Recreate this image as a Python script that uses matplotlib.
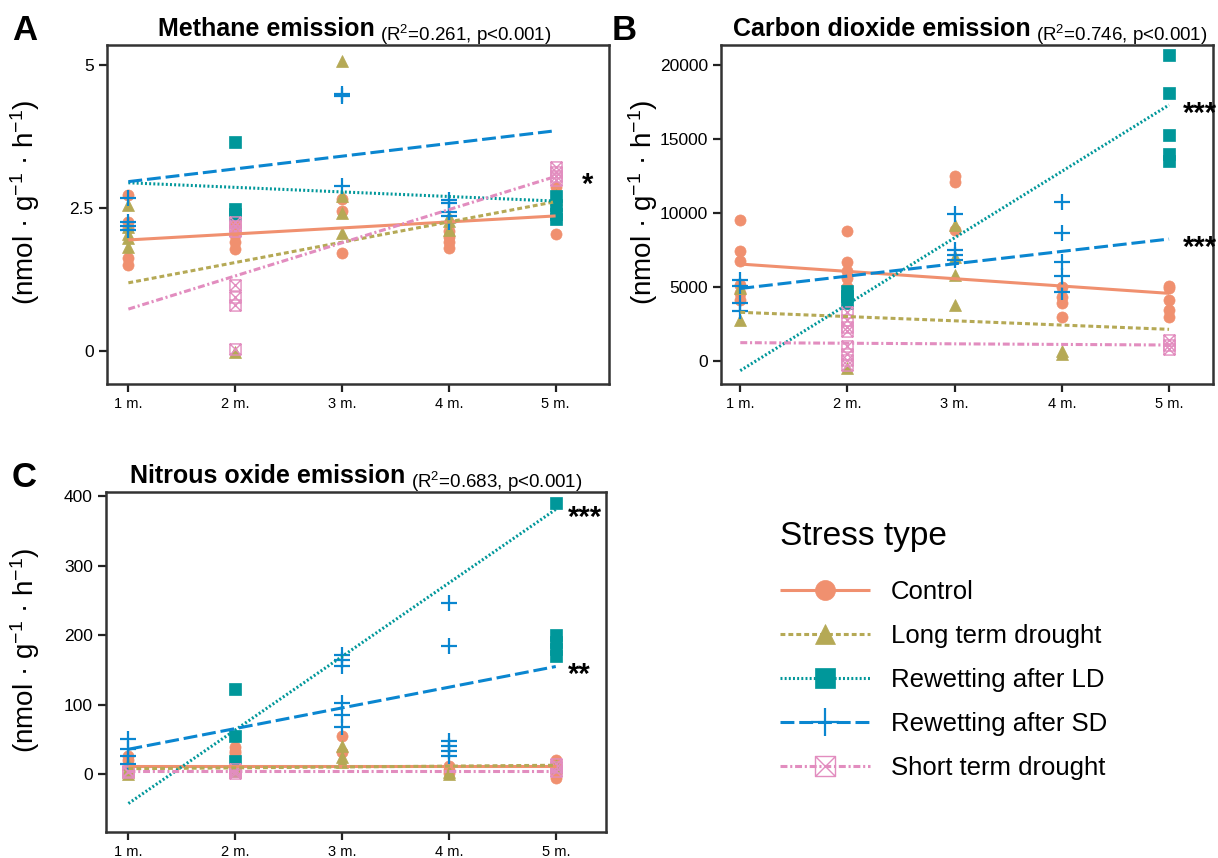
import numpy as np
import matplotlib
matplotlib.use('Agg')
import matplotlib.pyplot as plt
from matplotlib.lines import Line2D
from matplotlib.path import Path
from matplotlib.text import Annotation

plt.rcParams['font.family'] = ['Liberation Sans', 'DejaVu Sans']
plt.rcParams['mathtext.default'] = 'regular'
plt.rcParams['lines.scale_dashes'] = False

# meses y tipos de estrés
months = ['1 m.', '2 m.', '3 m.', '4 m.', '5 m.']
stress = ['Control', 'Long term drought', 'Rewetting after LD', 'Rewetting after SD', 'Short term drought']
colores = ['#F0906F', '#B5A955', '#00979A', '#0A86D0', '#E28DBF']

# Metano: valores por mes (1 m. ... 5 m.)
ch4_control = [[2.73, 2.26, 2.15, 1.63, 1.50], [2.20, 2.03, 1.91, 1.78], [2.66, 2.44, 1.71], [2.09, 2.00, 1.90, 1.80], [2.87, 2.60, 2.05]]
ch4_ltd = [[2.55, 2.17, 2.05, 1.97, 1.82], [-0.02], [5.07, 2.71, 2.41, 2.06], [2.35, 2.28, 2.12], [2.72, 2.65]]
ch4_rld = [[], [3.66, 2.48, 2.40], [], [], [2.70, 2.55, 2.40, 2.30]]
ch4_rsd = [[2.67, 2.26, 2.18, 2.12], [], [4.50, 4.45, 2.89], [2.64, 2.58, 2.42, 2.36, 2.26], []]
ch4_std = [[], [2.25, 2.18, 2.10, 1.15, 0.95, 0.80, 0.03], [], [], [3.22, 3.12, 3.05, 2.98]]
ch4_fit_1m = [1.94, 1.19, 2.94, 2.96, 0.73]
ch4_fit_5m = [2.36, 2.61, 2.62, 3.85, 3.05]

# Dióxido de carbono
co2_control = [[9500, 7450, 6780, 5140, 4600, 4100], [8750, 6700, 6050, 5600, 5000], [12500, 12100, 8850], [5000, 4350, 3900, 3000], [5100, 4900, 4150, 3450, 2950]]
co2_ltd = [[4900, 2800], [-450], [9200, 7050, 5800, 3800], [650, 500], []]
co2_rld = [[], [4700, 4400, 3900], [], [], [20700, 18100, 15300, 14000, 13500]]
co2_rsd = [[5500, 5050, 3950, 3400], [], [9900, 7500, 7150, 6800], [10750, 8650, 6700, 5750, 4650], []]
co2_std = [[], [3300, 2800, 2300, 2000, 1000, 500, 100, -300], [], [], [1400, 1100, 800]]
co2_fit_1m = [6550, 3290, -650, 4900, 1240]
co2_fit_5m = [4570, 2140, 17300, 8240, 1080]

# Óxido nitroso
n2o_control = [[27, 20, 12], [39, 34, 30], [55, 32], [12, 6, 2], [20, 12, 5, 0, -6]]
n2o_ltd = [[15, 8, 3, 0], [10, 5], [40, 25, 18], [3, 0], [14, 10]]
n2o_rld = [[], [122, 55, 19], [], [], [390, 200, 190, 180, 170]]
n2o_rsd = [[51, 36, 27, 15], [], [172, 164, 156, 103, 85, 68], [246, 184, 48, 40, 33, 26], []]
n2o_std = [[5, 3], [8, 5, 2], [], [], [15, 10, 5]]
n2o_fit_1m = [12, 8, -42, 36, 5]
n2o_fit_5m = [12, 13, 381, 155, 5]

# marcador cuadrado con aspa
caja_x = Path([(-1, -1), (1, -1), (1, 1), (-1, 1), (-1, -1), (-1, -1), (1, 1), (-1, 1), (1, -1)],
              [Path.MOVETO, Path.LINETO, Path.LINETO, Path.LINETO, Path.CLOSEPOLY,
               Path.MOVETO, Path.LINETO, Path.MOVETO, Path.LINETO])
marcadores = ['o', '^', 's', '+', caja_x]
tamanos = [8, 8, 8, 11, 8]
estilos = [(0, ()), (0, (3.5, 2.2)), (0, (1.4, 1.6)), (0, (10, 3.5)), (0, (5, 2, 1.5, 2))]


def marcador_kw(i):
    if i == 4:
        return dict(marker=marcadores[i], markersize=tamanos[i], markerfacecolor='none',
                    markeredgecolor=colores[i], markeredgewidth=1.0)
    if i == 3:
        return dict(marker='+', markersize=tamanos[i], markeredgecolor=colores[i], markeredgewidth=1.6)
    return dict(marker=marcadores[i], markersize=tamanos[i], markerfacecolor=colores[i],
                markeredgecolor=colores[i], markeredgewidth=0.5)


def panel(ax, series, fit1, fit5):
    for i, s in enumerate(series):
        xs, ys = [], []
        for m, vals in enumerate(s):
            xs += [m + 1] * len(vals)
            ys += vals
        ax.plot(xs, ys, linestyle='none', zorder=2, **marcador_kw(i))
    # rectas de regresión
    for i in range(5):
        ax.plot([1, 5], [fit1[i], fit5[i]], color=colores[i], lw=2.2,
                linestyle=estilos[i], zorder=3)
    ax.set_xticks([1, 2, 3, 4, 5])
    ax.set_xticklabels(months, fontsize=10.5)
    ax.tick_params(axis='y', labelsize=12.5)
    ax.tick_params(direction='out', length=6, width=1.6, color='#222222')
    for sp in ax.spines.values():
        sp.set_linewidth(1.8)
        sp.set_color('#333333')
    ax.set_ylabel('(nmol · g$^{-1}$ · h$^{-1}$)', fontsize=20)


fig = plt.figure(figsize=(12.18, 8.58), dpi=100)
W, H = 1218, 858
axA = fig.add_axes([107 / W, 1 - 384 / H, 502 / W, 339 / H])
axB = fig.add_axes([721 / W, 1 - 384 / H, 492 / W, 339 / H])
axC = fig.add_axes([106 / W, 1 - 832 / H, 500 / W, 340 / H])

panel(axA, [ch4_control, ch4_ltd, ch4_rld, ch4_rsd, ch4_std], ch4_fit_1m, ch4_fit_5m)
axA.set_xlim(0.80, 5.50)
axA.set_ylim(-0.58, 5.35)
axA.set_yticks([0, 2.5, 5])
axA.set_yticklabels(['0', '2.5', '5'])
axA.yaxis.set_label_coords(-0.13, 0.535)

panel(axB, [co2_control, co2_ltd, co2_rld, co2_rsd, co2_std], co2_fit_1m, co2_fit_5m)
axB.set_xlim(0.82, 5.41)
axB.set_ylim(-1554, 21350)
axB.set_yticks([0, 5000, 10000, 15000, 20000])
axB.yaxis.set_label_coords(-0.124, 0.535)

panel(axC, [n2o_control, n2o_ltd, n2o_rld, n2o_rsd, n2o_std], n2o_fit_1m, n2o_fit_5m)
axC.set_xlim(0.79, 5.47)
axC.set_ylim(-83, 406)
axC.set_yticks([0, 100, 200, 300, 400])
axC.yaxis.set_label_coords(-0.128, 0.535)

# títulos: parte en negrita + estadístico
for (x, y, neg, resto) in [(158, 36, 'Methane emission', '(R$^2$=0.261, p<0.001)'),
                           (733, 36, 'Carbon dioxide emission', '(R$^2$=0.746, p<0.001)'),
                           (130, 483, 'Nitrous oxide emission', '(R$^2$=0.683, p<0.001)')]:
    t = fig.text(x / W, 1 - y / H, neg, fontsize=18, fontweight='bold', va='baseline', ha='left')
    fig.add_artist(Annotation(resto, xy=(1, 0), xycoords=t, xytext=(4, 0), textcoords='offset points',
                              fontsize=13.5, va='baseline', ha='left'))

# letras de panel
for (x, y, l) in [(12, 40, 'A'), (612, 40, 'B'), (12, 487, 'C')]:
    fig.text(x / W, 1 - y / H, l, fontsize=25, fontweight='bold', va='baseline', ha='left')


# significancia
def estrellas(ax, yv, txt, dx):
    ax.annotate(txt, xy=(5, yv), xytext=(dx, -12), textcoords='offset points',
                fontsize=21, fontweight='bold', ha='left', va='baseline', annotation_clip=False)


estrellas(axA, ch4_fit_5m[4], '*', 19)
estrellas(axB, co2_fit_5m[2], '***', 10)
estrellas(axB, co2_fit_5m[3], '***', 10)
estrellas(axC, n2o_fit_5m[2], '***', 8.5)
estrellas(axC, n2o_fit_5m[3], '**', 8.5)

# leyenda
fig.text(780 / W, 1 - 537 / H, 'Stress type', fontsize=24, va='center', ha='left')
handles = []
for i in range(5):
    kw = marcador_kw(i)
    kw['markersize'] = kw['markersize'] * 1.8
    handles.append(Line2D([], [], color=colores[i], lw=2.2, linestyle=estilos[i], **kw))
leg = fig.legend(handles, stress, loc='upper left',
                 bbox_to_anchor=(757 / W, 1 - 557 / H), frameon=False, fontsize=18.5,
                 handlelength=3.5, handletextpad=0.8, labelspacing=0.78)

fig.savefig('out.png', dpi=100)
